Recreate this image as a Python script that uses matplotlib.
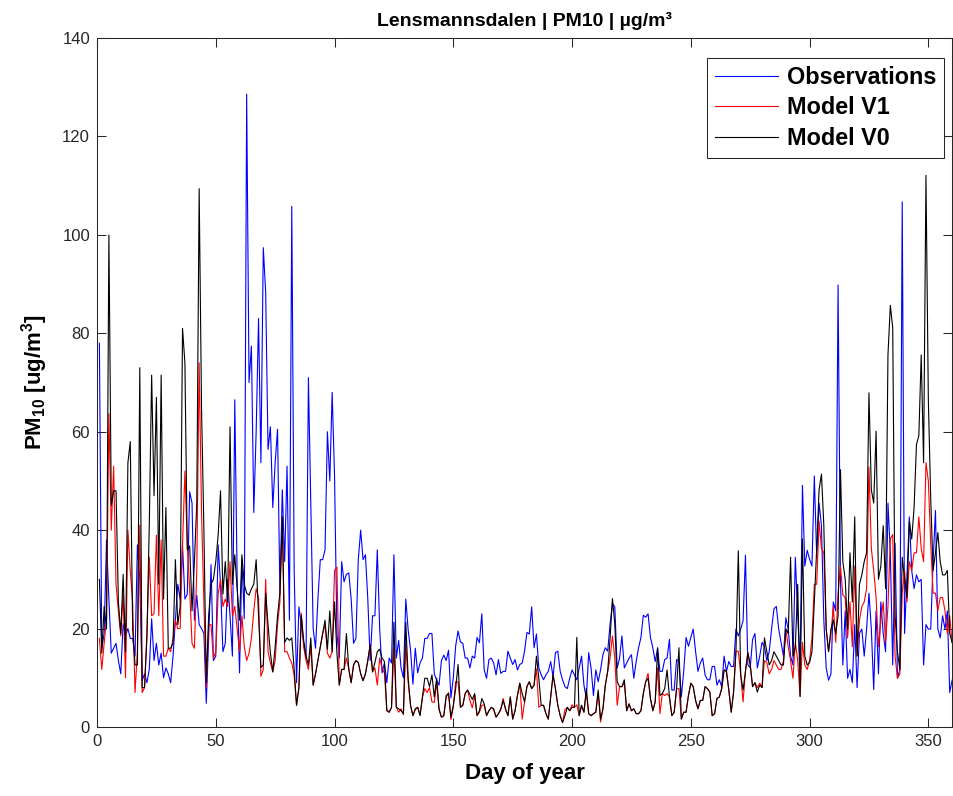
import matplotlib
matplotlib.use("Agg")
import matplotlib.pyplot as plt
import numpy as np

plt.rcParams['font.family'] = ['Liberation Sans', 'DejaVu Sans']
plt.rcParams['mathtext.fontset'] = 'custom'
plt.rcParams['mathtext.bf'] = 'Liberation Sans:bold'
plt.rcParams['mathtext.rm'] = 'Liberation Sans:bold'
plt.rcParams['mathtext.default'] = 'bf'

# day of year 1..360
days = np.arange(1, 361)

obs = [
    78, 16, 19, 38, 26, 15, 16, 17, 13.5, 10.8,
    21, 18.5, 20, 18, 18, 14.4, 37, 30, 9.4, 10.8,
    9, 11.7, 22, 13.5, 17, 12.6, 15, 10, 12, 10.8,
    9, 14.4, 21.7, 29, 26, 37, 26, 27, 47.8, 45.5,
    21.7, 26.8, 20.8, 20, 19, 4.8, 18, 33, 13.5, 14.4,
    37, 29, 15.3, 17, 30, 22.6, 14.4, 66.5, 30, 11,
    34, 22, 128.6, 70, 77.4, 43.6, 60, 83, 53.7, 97.4,
    88.4, 56.4, 61, 44.6, 53.7, 60.5, 27.2, 48.2, 33.6, 53,
    21.7, 105.8, 31.8, 9, 24.4, 20.8, 17, 14, 71, 45,
    20, 16, 26, 34, 34, 36, 60, 50, 68, 51,
    19, 14, 33.6, 29.5, 31, 31.3, 26, 17, 18, 34,
    40, 34, 35, 26, 13.5, 22.6, 22.6, 36, 20, 11,
    13, 9, 14, 13, 35, 14, 17.6, 12, 10, 26,
    19.7, 15.6, 8.7, 16, 11, 13, 14, 18, 18, 19,
    19, 10.8, 9.5, 8.5, 13.5, 14.6, 13.5, 15.6, 5.9, 10,
    16.5, 19.5, 17.3, 17, 14, 14, 12, 14.4, 14, 18.2,
    17.1, 23, 11.6, 9.9, 13.7, 14, 13, 10.6, 13.7, 10.9,
    11.3, 11.3, 15.4, 14, 12.7, 13.7, 11.6, 12.7, 13, 15.4,
    19.2, 18.9, 24.4, 16.1, 18.9, 12, 10.6, 9.6, 10.6, 11.3,
    13.3, 10.2, 15.1, 15.4, 11.3, 9.6, 8.2, 7.8, 9.9, 11.6,
    10.6, 9.6, 12, 14.4, 8.5, 5.8, 15.1, 12, 6.4, 11.6,
    9.2, 11.6, 14.7, 16.1, 15.4, 20.9, 25.1, 24.4, 12, 14,
    18.5, 12, 13, 14, 14.7, 9.9, 13.3, 16.1, 18.2, 22.7,
    22.3, 23, 18.2, 16.1, 13.3, 16, 11.3, 11.3, 13.7, 14,
    17.8, 7.5, 7.5, 13.7, 13.3, 6.1, 11.3, 18.2, 16.4, 18.2,
    19.9, 15.4, 11.3, 13, 14, 10.6, 9.6, 9.6, 12.3, 12.3,
    8.5, 9.6, 8.2, 14.4, 11.3, 13.3, 12.3, 12.3, 19.9, 18.5,
    19.9, 21.6, 34.9, 12.7, 12, 17.8, 19, 12, 14.4, 17.2,
    16.3, 13.5, 15.3, 19.9, 24, 24.5, 19.9, 17.2, 14.4, 22.2,
    19.9, 14.4, 12.6, 34.5, 22.6, 12.6, 49.1, 32.7, 35.9, 34.1,
    32.7, 51, 34.5, 45.5, 40.9, 21.7, 12, 9.5, 10.8, 25.4,
    23.6, 89.8, 30, 12.6, 23.6, 9.9, 11.7, 9, 20.8, 8,
    19, 19.9, 14.4, 19.9, 27.2, 19.9, 7.6, 23.6, 10.8, 25.4,
    19, 15.3, 45.5, 35.4, 12.6, 37.3, 9.9, 11.7, 106.7, 19,
    30.9, 42.7, 31.8, 28.1, 30.9, 29.5, 30, 12.6, 20.8, 19.9,
    19.9, 33.6, 44, 19.9, 18.1, 22.6, 19.9, 23.6, 7, 9.5,
]

model_v1 = [
    18, 11.7, 17, 22, 63.7, 40, 53, 29, 23.5, 18.5,
    27, 10, 40, 31.8, 25.4, 7, 15.3, 41, 7, 8,
    19, 34.5, 22.6, 23, 39, 22.6, 38, 14.4, 14.4, 16,
    15.3, 18, 21.7, 20, 20, 37, 52, 37, 28, 17,
    16, 31.8, 74, 43.6, 25, 8, 20.8, 20.8, 14, 15.3,
    27, 30, 24.5, 26, 24.5, 33.6, 22.6, 24.5, 20, 15.3,
    22.6, 16.3, 13.5, 15, 18, 23.6, 28.1, 26.3, 10.3, 11.7,
    30, 15.3, 13, 11.2, 13.5, 20.8, 25.4, 42.7, 15.3, 15.3,
    14, 13, 10.5, 4.4, 8, 23.1, 16.3, 13.5, 11.7, 16.3,
    8.5, 10.8, 13.5, 16.3, 19, 20.8, 15, 14, 15.3, 31.8,
    32.5, 8.5, 11.7, 11.7, 14, 11.7, 9, 12.6, 13.5, 13.1,
    10.8, 9.4, 10.8, 13.5, 16.7, 11.2, 12, 8.5, 14, 12,
    11, 3.5, 3, 4, 16.1, 4, 3, 3.7, 2.5, 16.8,
    9, 4.4, 2.3, 3.5, 4, 2.5, 6, 7.8, 7, 8,
    5.1, 5, 9, 3.5, 2, 2.3, 6, 7, 1.5, 4,
    9.2, 9.2, 4, 4.4, 6.8, 7.5, 5.4, 3.9, 6.5, 2.3,
    3, 4.4, 4.5, 2.3, 3.3, 4, 3.5, 2, 2.7, 3.5,
    5.8, 3.5, 2.3, 6.1, 1.6, 3.3, 6.4, 8.9, 1.6, 5.1,
    8.2, 9.2, 7.8, 8.5, 11.8, 4, 4.4, 4.4, 2.7, 1.6,
    6.1, 10.6, 7.8, 4.4, 2.3, 0.9, 3.5, 4, 3.3, 4.5,
    4, 4.5, 2.3, 4.4, 3, 7, 2.7, 2.3, 2.7, 3,
    7, 1, 3.7, 8.5, 11.3, 14, 18.5, 14, 4.4, 8.2,
    8.2, 9, 3.3, 4.7, 3.3, 3.7, 2.7, 2.7, 3.3, 6.8,
    9.2, 10.9, 5.8, 3.3, 5.1, 12, 2.7, 6.8, 6.4, 6.8,
    6.1, 2.3, 3, 7.8, 7.8, 1.6, 3, 3, 6.4, 8.9,
    8.2, 5.4, 3.7, 5.4, 5.4, 8.2, 7.8, 7.1, 2.3, 2.7,
    5.8, 6.1, 7.8, 11.6, 11.3, 7.5, 3, 7.1, 15.4, 15.4,
    10.6, 5.1, 11.3, 15.1, 12.7, 8.2, 9, 8, 8.9, 8,
    13.5, 13.1, 10.8, 11.7, 13.5, 12.6, 11.7, 11.7, 13.5, 19.9,
    16.3, 13.5, 9.9, 17.2, 13.5, 6.2, 17.2, 12.6, 11.7, 13.5,
    18.1, 29, 29, 41.8, 36.3, 35.4, 19.9, 15.3, 19, 24.5,
    17.2, 27.2, 32.7, 26.8, 26.3, 18.1, 25.4, 16.3, 32.7, 14.4,
    21.7, 24.5, 25.4, 28.1, 52.8, 36.3, 31.8, 26.3, 16.3, 21.7,
    25.4, 17.2, 24.5, 38.2, 39.1, 14.4, 9.9, 10.8, 27.2, 31.8,
    25.4, 33.6, 31.8, 35.4, 35.4, 42.7, 36.3, 33.6, 53.7, 50,
    37.3, 27.2, 27.2, 23.6, 26.3, 26.3, 23.6, 19, 22.6, 17.2,
]

model_v0 = [
    30, 15, 24.5, 20, 100, 45, 48, 48, 25.4, 19,
    31, 15.3, 53.7, 58, 20, 12.6, 12.6, 73, 8, 8,
    18, 41, 71.5, 47, 67, 29, 71.5, 26, 44.6, 16,
    16, 17, 34, 20.8, 24.5, 81, 74, 36, 36.8, 23.6,
    33.6, 45.5, 109.4, 64.7, 40, 9, 22.6, 29, 30, 33.6,
    39, 48, 27, 33.6, 25.4, 61, 29, 35, 28, 21.7,
    35, 29, 27.2, 26.8, 28.1, 29, 34, 22.6, 12.1, 12.6,
    27.2, 20.8, 15, 11.2, 16.3, 22.6, 27.2, 42.7, 17.2, 18.1,
    17.6, 18.1, 11.7, 4.4, 8, 22.6, 17.6, 14.4, 12.6, 18.1,
    8.5, 10.8, 13.5, 16.3, 19, 21.7, 15.8, 23.6, 15.3, 25.4,
    15, 8.5, 11.7, 11.7, 19, 11.7, 9, 12.6, 13.5, 13.1,
    10.8, 9.4, 10.8, 13.5, 16.7, 11.2, 13.1, 15.3, 15.8, 14,
    13.3, 3.3, 3, 4, 21.3, 4, 3.7, 3.3, 2.7, 21.3,
    9.9, 4.4, 2.3, 3.7, 4, 2.3, 6.1, 9.9, 9.9, 8.2,
    10.6, 6.1, 9.9, 3.7, 2, 2.3, 6.4, 6.8, 2, 4.4,
    7.8, 12.7, 4, 4.4, 6.8, 7.5, 6.6, 5.6, 6.8, 2.3,
    3.3, 5.8, 4.7, 2.3, 3.3, 4, 3.7, 2, 2.7, 3.7,
    5.4, 3.7, 2.3, 6.1, 1.6, 3.3, 6.4, 8.9, 6.8, 5.1,
    8.2, 9.2, 7.8, 8.5, 14.4, 9.9, 4.4, 4.4, 2.7, 1.6,
    6.1, 10.6, 7.8, 4.4, 2.3, 0.9, 2.3, 4, 3.3, 4,
    4, 18.2, 2.3, 4.4, 3, 7.8, 2.7, 2.3, 2.7, 3,
    7.5, 1.6, 3.7, 8.5, 11.3, 18, 26.1, 20.9, 9.2, 8.2,
    8.2, 9.6, 3.3, 4.7, 3.3, 3.7, 2.7, 2.7, 3.3, 6.8,
    9.2, 9.9, 5.8, 3.3, 5.1, 16.1, 6.4, 6.8, 7.8, 11.6,
    6.1, 2.3, 3, 7.8, 16.1, 1.6, 3, 3, 6.4, 8.9,
    8.2, 5.4, 3.7, 5.4, 5.4, 8.2, 7.8, 7.1, 2.3, 2.7,
    5.8, 6.1, 7.8, 11.6, 11.3, 7.5, 3, 7.1, 15.4, 35.8,
    10.6, 7.5, 11.3, 15.1, 12.7, 8.2, 9, 7.1, 8.5, 8,
    18.1, 15.3, 12.6, 13.5, 15.3, 14.4, 13.5, 12.6, 12.6, 19.9,
    19, 34.5, 14.4, 16.3, 29, 6.2, 38.2, 14.4, 12.6, 13.1,
    15.3, 25.4, 36.3, 48.2, 51.4, 40.9, 19.9, 15.3, 19.9, 21.7,
    19, 22.6, 52.3, 33.6, 30, 19.9, 35.4, 25.4, 42.7, 14.4,
    29, 30.9, 33.6, 35.4, 67.9, 48.2, 45.5, 60.1, 30, 32.7,
    40.9, 28.1, 75.6, 85.7, 81.1, 22.6, 15.3, 11.7, 34.5, 30,
    26.3, 41.8, 38.2, 44.6, 57.4, 59.2, 75.6, 53.7, 112.1, 66.5,
    46.4, 31.8, 35.4, 39.5, 33.6, 30.9, 30.9, 31.8, 19, 17.2,
]

fig = plt.figure(figsize=(9.54, 7.96), dpi=100)
ax = fig.add_axes([0.1017, 0.0867, 0.8963, 0.8655])

ax.plot(days, obs, color='blue', linewidth=0.8, label='Observations')
ax.plot(days, model_v1, color='red', linewidth=0.8, label='Model V1')
ax.plot(days, model_v0, color='black', linewidth=0.8, label='Model V0')

ax.set_xlim(0, 360)
ax.set_ylim(0, 140)
ax.set_xticks(np.arange(0, 351, 50))
ax.set_yticks(np.arange(0, 141, 20))
ax.tick_params(direction='in', top=True, right=True, length=6.5, width=0.75,
               labelsize=12, colors='0.15', pad=5)
for s in ax.spines.values():
    s.set_linewidth(0.75)
    s.set_color('0.15')

ax.set_title('Lensmannsdalen | PM10 | µg/m³', fontsize=14, fontweight='bold', pad=9)
ax.set_xlabel('Day of year', fontsize=16, fontweight='bold', labelpad=10)
ax.set_ylabel(r'PM$_{10}$ [ug/m$^3$]', fontsize=16, fontweight='bold', labelpad=9)

leg = ax.legend(loc='upper right', bbox_to_anchor=(0.991, 0.971), borderaxespad=0,
                fancybox=False, framealpha=1, edgecolor='0.15',
                prop={'weight': 'bold', 'size': 16.8},
                handlelength=2.7, handletextpad=0.4, labelspacing=0.33,
                borderpad=0.33)
leg.get_frame().set_linewidth(0.75)

fig.savefig('out.png', dpi=100)
